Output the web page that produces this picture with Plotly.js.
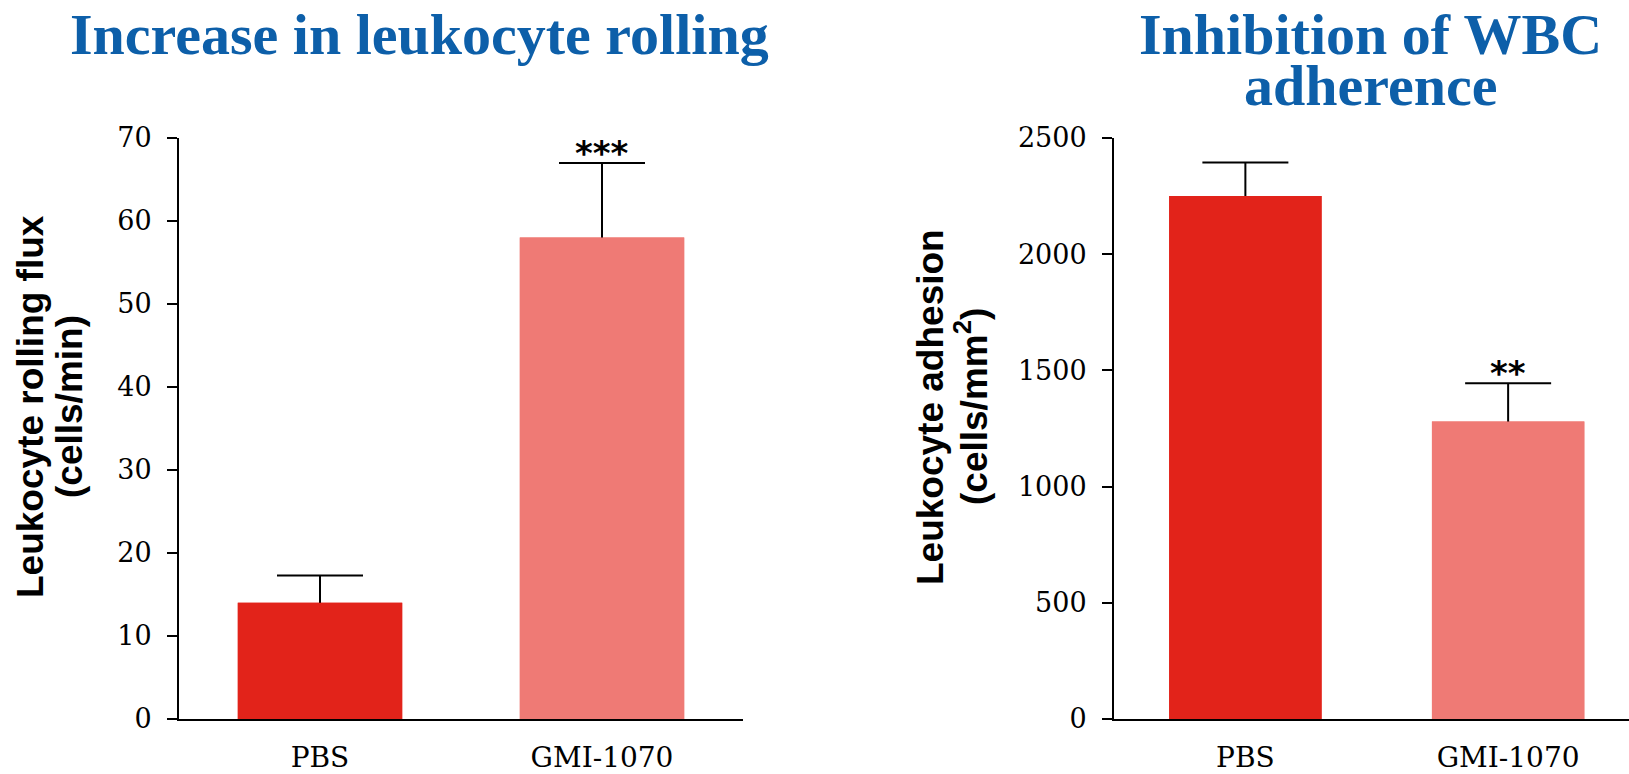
<!DOCTYPE html>
<html><head><meta charset="utf-8">
<script src="https://cdn.plot.ly/plotly-3.0.1.min.js"></script>
<style>html,body{margin:0;padding:0;background:#fff;overflow:hidden}</style>
</head><body>
<div id="chart" style="width:1629px;height:774px"></div>
<script>
const categories = ['PBS', 'GMI-1070'];
const rollingFlux = [14, 58];
const rollingFluxErr = [3.3, 9];
const rollingSig = ['', '***'];
const adhesion = [2250, 1280];
const adhesionErr = [145, 165];
const adhesionSig = ['', '**'];
const barColors = ['#e2231a', '#ef7a75'];
const leftTitle = ['Increase in leukocyte rolling'];
const rightTitle = ['Inhibition of WBC', 'adherence'];
const leftYTitle = ['Leukocyte rolling flux', '(cells/min)'];
const rightYTitle = ['Leukocyte adhesion', '(cells/mm<sup>2</sup>)'];
const rollingTicks = [0, 10, 20, 30, 40, 50, 60, 70];
const adhesionTicks = [0, 500, 1000, 1500, 2000, 2500];

const W = 1629, H = 774;
const titleBlue = '#0d5fa9';
const serif = 'DejaVu Serif, Liberation Serif, serif';
const sans = 'Liberation Sans, Arial, sans-serif';

function barTraces(xa, ya, vals, errs, barW) {
  const withErr = {
    type: 'bar', x: categories, y: vals, xaxis: xa, yaxis: ya, width: barW,
    marker: {color: barColors, line: {width: 0}},
    error_y: {type: 'data', symmetric: false, array: errs, arrayminus: vals,
              color: '#000', thickness: 2, width: 43},
    hoverinfo: 'skip', showlegend: false
  };
  const cover = {
    type: 'bar', x: categories, y: vals, xaxis: xa, yaxis: ya, width: barW,
    marker: {color: barColors, line: {width: 0}},
    hoverinfo: 'x+y', showlegend: false
  };
  return [withErr, cover];
}

const data = [
  ...barTraces('x', 'y', rollingFlux, rollingFluxErr, 0.583),
  ...barTraces('x2', 'y2', adhesion, adhesionErr, 0.58)
];

const yDom = [(H - 719) / H, (H - 138) / H];

function yAxis(range, ticks, anchor) {
  return {
    domain: yDom, range: range, tickvals: ticks, ticks: 'outside', ticklen: 10,
    tickwidth: 2, tickcolor: '#000', showline: true, linecolor: '#000', linewidth: 2,
    showgrid: false, zeroline: false, anchor: anchor, fixedrange: true,
    tickfont: {family: serif, size: 27, color: '#000'}, ticklabelstandoff: 10
  };
}
function innerTicks(over, range, ticks, anchor) {
  return {
    overlaying: over, domain: yDom, range: range, tickvals: ticks, ticks: 'inside',
    ticklen: 10, tickwidth: 2, tickcolor: '#000', showticklabels: false,
    showline: false, showgrid: false, zeroline: false, anchor: anchor, side: 'left',
    fixedrange: true
  };
}
function xAxis(domain, range, anchor) {
  return {
    domain: domain, range: range, anchor: anchor, showline: true, linecolor: '#000',
    linewidth: 2, ticks: '', showgrid: false, zeroline: false, fixedrange: true,
    tickfont: {family: serif, size: 28, color: '#000'}, ticklabelstandoff: 12
  };
}

const titleFont = {family: 'Liberation Serif, serif', size: 58, color: titleBlue, weight: 700};
const yTitleFont = {family: sans, size: 37, color: '#000', weight: 700};
const annotations = [];
function addTitle(lines, cx, baseline0, lineGap) {
  lines.forEach((t, i) => {
    const baseline = baseline0 + i * lineGap;
    annotations.push({xref: 'paper', yref: 'paper', x: cx / W, xanchor: 'center',
      y: 1 - (baseline - 0.87 * titleFont.size) / H, yanchor: 'top',
      text: t, showarrow: false, font: titleFont});
  });
}
addTitle(leftTitle, 419, 50.5, 51);
addTitle(rightTitle, 1370, 50.5, 51);

function addYTitle(lines, cxs, cy) {
  lines.forEach((t, i) => {
    annotations.push({xref: 'paper', yref: 'paper', x: cxs[i] / W, y: 1 - cy / H,
      xanchor: 'center', yanchor: 'middle', textangle: -90, text: t,
      showarrow: false, font: yTitleFont});
  });
}
addYTitle(leftYTitle, [30, 69], 407);
addYTitle(rightYTitle, [930, 971], 407);

function addSig(sig, vals, errs, xa, ya) {
  sig.forEach((s, i) => {
    if (!s) return;
    annotations.push({xref: xa, yref: ya, x: categories[i], y: vals[i] + errs[i],
      yanchor: 'bottom', yshift: -12, text: s, showarrow: false,
      font: {family: 'DejaVu Sans, sans-serif', size: 34, color: '#000', weight: 700}});
  });
}
addSig(rollingSig, rollingFlux, rollingFluxErr, 'x', 'y');
addSig(adhesionSig, adhesion, adhesionErr, 'x2', 'y2');

const layout = {
  width: W, height: H, margin: {l: 0, r: 0, t: 0, b: 0, autoexpand: false},
  paper_bgcolor: '#fff', plot_bgcolor: 'rgba(0,0,0,0)',
  barmode: 'overlay', showlegend: false,
  xaxis: xAxis([179 / W, 743 / W], [-0.5, 1.5], 'y'),
  yaxis: yAxis([0, 70], rollingTicks, 'x'),
  yaxis3: innerTicks('y', [0, 70], rollingTicks, 'x'),
  xaxis2: xAxis([1114 / W, 1], [-0.5, 1.46], 'y2'),
  yaxis2: yAxis([0, 2500], adhesionTicks, 'x2'),
  yaxis4: innerTicks('y2', [0, 2500], adhesionTicks, 'x2'),
  annotations: annotations
};

Plotly.newPlot('chart', data, layout, {displayModeBar: false, staticPlot: true});
</script>
</body></html>
